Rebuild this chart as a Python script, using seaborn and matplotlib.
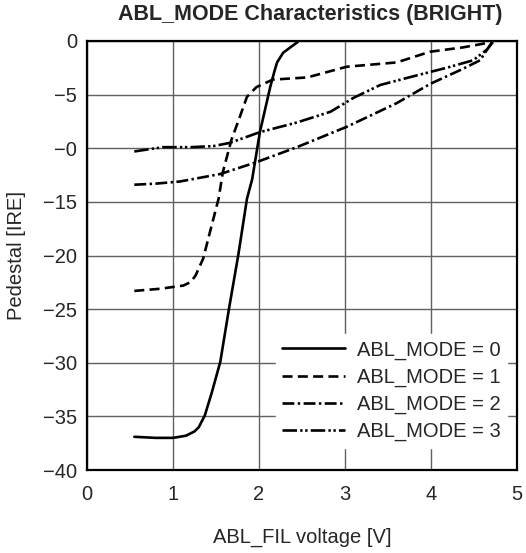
import matplotlib
matplotlib.use("Agg")
import matplotlib.pyplot as plt
import seaborn as sns
import pandas as pd

# ---- data ----
mode0_x = [0.55, 0.80, 1.00, 1.15, 1.25, 1.30, 1.37, 1.45, 1.55, 1.65, 1.76, 1.86, 1.92, 2.01, 2.13, 2.18, 2.21, 2.28, 2.38, 2.45]
mode0_y = [-36.9, -37.0, -37.0, -36.8, -36.4, -36.0, -34.9, -32.8, -29.9, -25.0, -19.9, -14.7, -12.9, -8.5, -4.3, -2.8, -2.0, -1.1, -0.5, -0.1]

mode1_x = [0.55, 0.85, 1.12, 1.20, 1.26, 1.35, 1.43, 1.53, 1.58, 1.68, 1.78, 1.86, 1.97, 2.16, 2.56, 3.02, 3.60, 3.99, 4.37, 4.71]
mode1_y = [-23.3, -23.1, -22.8, -22.5, -21.9, -20.3, -17.8, -14.7, -12.2, -9.2, -7.0, -5.2, -4.3, -3.6, -3.4, -2.4, -2.0, -1.0, -0.6, -0.1]

mode2_x = [0.55, 0.80, 1.08, 1.55, 1.97, 2.44, 3.02, 3.60, 3.99, 4.37, 4.57, 4.71]
mode2_y = [-13.4, -13.3, -13.1, -12.4, -11.3, -9.9, -8.0, -5.8, -4.0, -2.6, -1.8, -0.1]

mode3_x = [0.55, 0.88, 1.20, 1.47, 1.66, 2.01, 2.44, 2.83, 3.10, 3.41, 3.79, 4.18, 4.49, 4.65, 4.72]
mode3_y = [-10.3, -9.9, -9.9, -9.8, -9.5, -8.5, -7.6, -6.6, -5.3, -4.1, -3.3, -2.5, -1.8, -0.8, -0.1]

labels = ["ABL_MODE = 0", "ABL_MODE = 1", "ABL_MODE = 2", "ABL_MODE = 3"]
x_ticks = [0, 1, 2, 3, 4, 5]
x_ticklabels = ["0", "1", "2", "3", "4", "5"]
y_ticks = [0, -5, -10, -15, -20, -25, -30, -35, -40]
y_ticklabels = ["0", "\u22125", "\u22120", "\u221215", "\u221220", "\u221225", "\u221230", "\u221235", "\u221240"]

title = "ABL_MODE Characteristics (BRIGHT)"
xlabel = "ABL_FIL voltage [V]"
ylabel = "Pedestal [IRE]"

frames = []
for lab, xs, ys in zip(labels, [mode0_x, mode1_x, mode2_x, mode3_x], [mode0_y, mode1_y, mode2_y, mode3_y]):
    frames.append(pd.DataFrame({"x": xs, "y": ys, "mode": lab}))
df = pd.concat(frames, ignore_index=True)

sns.set_style("white")
plt.rcParams["font.family"] = ["Liberation Sans", "DejaVu Sans"]

fig = plt.figure(figsize=(5.26, 5.53), dpi=100)
ax = fig.add_axes([0.1654, 0.150, 0.8176, 0.7759])

dashes = {
    labels[0]: "",
    labels[1]: (3.8, 2.0),
    labels[2]: (4.5, 1.3, 0.9, 1.3),
    labels[3]: (5.5, 1.2, 0.9, 1.0, 0.9, 1.2),
}
sns.lineplot(data=df, x="x", y="y", style="mode", dashes=dashes, color="black",
             linewidth=1.9, sort=False, estimator=None, ax=ax)

ax.set_xlim(0, 5)
ax.set_ylim(-40, 0)
ax.set_xticks(x_ticks)
ax.set_xticklabels(x_ticklabels)
ax.set_yticks(y_ticks)
ax.set_yticklabels(y_ticklabels)
ax.grid(True, color="#606060", linewidth=1.0)
ax.tick_params(axis="x", length=0, labelsize=14.5, pad=11)
ax.tick_params(axis="y", length=0, labelsize=14.5, pad=7)
for s in ax.spines.values():
    s.set_color("black")
    s.set_linewidth(1.6)
    s.set_zorder(5)

ax.set_title(title, fontsize=15.5, fontweight="bold", pad=15, x=0.52)
ax.set_xlabel(xlabel, fontsize=14.5, labelpad=17)
ax.set_ylabel(ylabel, fontsize=14.5, labelpad=12)

handles, labs = ax.get_legend_handles_labels()
leg = ax.legend(handles, labs, loc="lower right", bbox_to_anchor=(0.999, 0.029),
                fontsize=14.5, handlelength=3.1, labelspacing=0.4, handletextpad=0.6,
                frameon=True, facecolor="white", edgecolor="white", framealpha=1.0,
                fancybox=False, borderpad=0.3)
for h in leg.get_lines():
    h.set_linewidth(1.9)

fig.savefig("out.png", dpi=100)
